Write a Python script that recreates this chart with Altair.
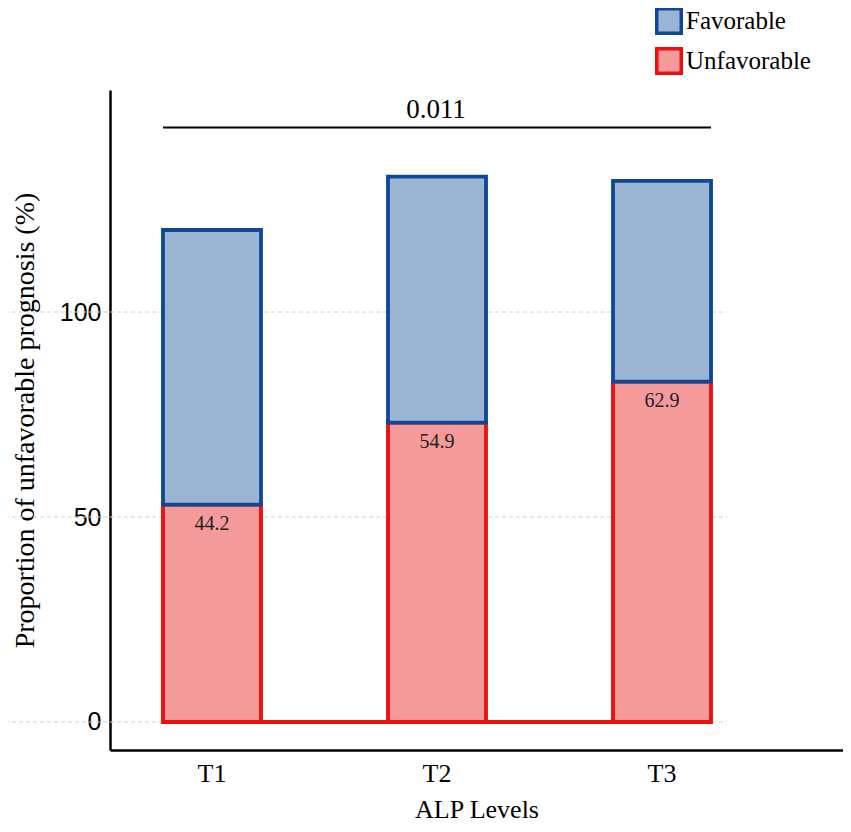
import pandas as pd
import altair as alt

# values
levels = ["T1", "T2", "T3"]
unfavorable = [53, 73, 83]
favorable = [67, 60, 49]
bar_labels = ["44.2", "54.9", "62.9"]
groups = ["Favorable", "Unfavorable"]
p_text = "0.011"
bracket_y = 145
grid_ticks = [0, 50, 100]

rows = []
for lv, u, f in zip(levels, unfavorable, favorable):
    rows.append({"level": lv, "group": "Unfavorable", "value": u, "order": 0})
    rows.append({"level": lv, "group": "Favorable", "value": f, "order": 1})
bars_df = pd.DataFrame(rows)
labels_df = pd.DataFrame({"level": levels, "value": unfavorable, "label": bar_labels})
bracket_df = pd.DataFrame({"level": [levels[0]], "level_end": [levels[-1]], "y": [bracket_y], "txt": [p_text]})
base_df = pd.DataFrame({"level": [levels[0]], "level_end": [levels[-1]], "y": [0]})
grid_df = pd.DataFrame({"tick": grid_ticks})

serif = "Liberation Serif"
x_scale = alt.Scale(domain=levels, paddingInner=0.5644, paddingOuter=0.411, align=0.2865)
y_scale = alt.Scale(domain=[-6.83, 154.15], nice=False, zero=False)

legend = alt.Legend(
    title=None, orient="none", legendX=545, legendY=-83, padding=0,
    symbolType="square", symbolSize=600, symbolStrokeWidth=3.5, symbolOpacity=1,
    labelFont=serif, labelFontSize=25, labelColor="black", labelOffset=3, rowPadding=0,
)

grid = alt.Chart(grid_df).mark_rule(color="#d0d0d0", strokeDash=[4, 3], strokeWidth=1).encode(
    y=alt.Y("tick:Q", scale=y_scale),
    x=alt.value(-105), x2=alt.value(617),
)

bars = alt.Chart(bars_df).mark_bar(strokeWidth=3.8, opacity=1).encode(
    x=alt.X("level:N", scale=x_scale, sort=levels,
            axis=alt.Axis(title="ALP Levels", labelAngle=0)),
    y=alt.Y("value:Q", stack="zero", scale=y_scale,
            axis=alt.Axis(title="Proportion of unfavorable prognosis (%)", values=grid_ticks)),
    order=alt.Order("order:Q"),
    fill=alt.Fill("group:N", scale=alt.Scale(domain=groups, range=["#9cb4d3", "#f59a9b"]), legend=legend),
    stroke=alt.Stroke("group:N", scale=alt.Scale(domain=groups, range=["#0c4896", "#ee0e0e"]), legend=legend),
)

base_line = alt.Chart(base_df).mark_rule(color="#ee0e0e", strokeWidth=3.8).encode(
    x=alt.X("level:N", bandPosition=0),
    x2=alt.X2("level_end", bandPosition=1),
    y=alt.Y("y:Q"),
)

labels = alt.Chart(labels_df).mark_text(
    font=serif, fontSize=20, color="#222222", baseline="top", dy=9
).encode(
    x=alt.X("level:N"),
    y=alt.Y("value:Q"),
    text="label:N",
)

bracket = alt.Chart(bracket_df).mark_rule(color="black", strokeWidth=2).encode(
    x=alt.X("level:N", bandPosition=0),
    x2=alt.X2("level_end", bandPosition=1),
    y=alt.Y("y:Q"),
)

p_label = alt.Chart(bracket_df).mark_text(
    font=serif, fontSize=27, color="black", baseline="bottom", dy=-4
).encode(
    x=alt.value(326),
    y=alt.Y("y:Q"),
    text="txt:N",
)

chart = alt.layer(grid, bars, base_line, labels, bracket, p_label).properties(
    width=733, height=660,
    autosize=alt.AutoSizeParams(type="none"),
    padding={"left": 102, "top": 82, "right": 0, "bottom": 74},
).configure_view(stroke=None).configure_axis(
    grid=False, ticks=False, domainColor="black", domainWidth=2.5,
    titleFontWeight="normal", titleColor="black", labelColor="black",
).configure_axisX(
    labelFont=serif, labelFontSize=26, labelPadding=10,
    titleFont=serif, titleFontSize=26, titleY=67, titleBaseline="alphabetic",
).configure_axisY(
    labelFont="Liberation Sans", labelFontSize=25, labelPadding=9,
    titleFont=serif, titleFontSize=28, titlePadding=20,
)

chart.save("out.html", embed_options={"renderer": "svg", "actions": False})
